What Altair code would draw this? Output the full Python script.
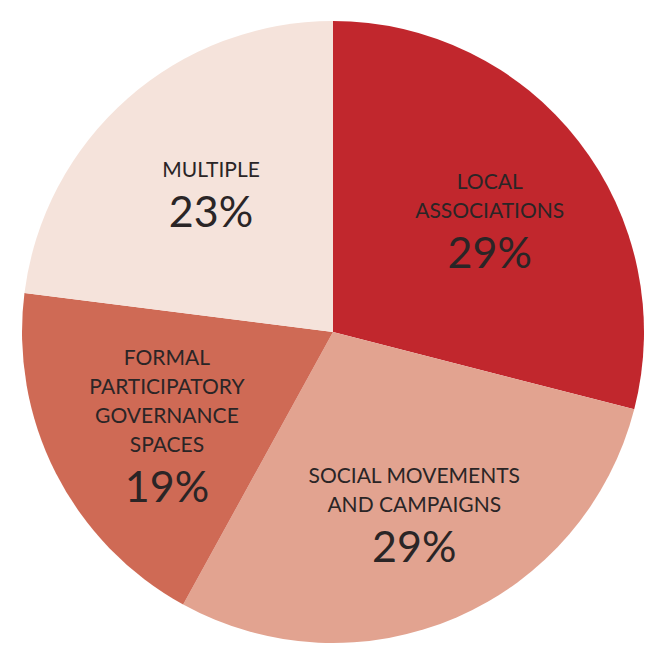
import math
import altair as alt
import pandas as pd

keys = ["local", "social", "formal", "multiple"]
label_lines = [
    ["LOCAL", "ASSOCIATIONS"],
    ["SOCIAL MOVEMENTS", "AND CAMPAIGNS"],
    ["FORMAL", "PARTICIPATORY", "GOVERNANCE", "SPACES"],
    ["MULTIPLE"],
]
values = [29, 29, 19, 23]
pct_labels = ["29%", "29%", "19%", "23%"]
colors = ["#C1272D", "#E2A390", "#CF6A55", "#F5E3DB"]

# ---- layout / style constants (not data) ----
W, H = 640, 638
PIE_R = 311
LABEL_R = 192
LABEL_SHIFT_X, LABEL_SHIFT_Y = 5, 9   # labels measured from the slices' apex
LINE_H = 29

slices = pd.DataFrame({
    "key": keys,
    "value": values,
    "order": list(range(len(keys))),
})

# text rows: one per line, placed around each slice's mid angle
total = sum(values)
rows = []
cum = 0
for key, v, lines, pct in zip(keys, values, label_lines, pct_labels):
    mid = (cum + v / 2) / total * 2 * math.pi
    cum += v
    cx = LABEL_R * math.sin(mid) + LABEL_SHIFT_X
    cy = LABEL_R * math.cos(mid) - LABEL_SHIFT_Y
    n = len(lines)
    block_h = (n - 1) * LINE_H + 66
    first = -block_h / 2 + 7.5
    for i, t in enumerate(lines):
        rows.append({"key": key, "text": t, "role": "label",
                     "x": cx, "y": cy - (first + i * LINE_H)})
    rows.append({"key": key, "text": pct, "role": "pct",
                 "x": cx, "y": cy - (block_h / 2 - 15.5)})
text_df = pd.DataFrame(rows)

arcs = alt.Chart(slices).mark_arc(radius=PIE_R, strokeWidth=0).encode(
    theta=alt.Theta("value:Q", stack=True),
    order=alt.Order("order:Q"),
    color=alt.Color("key:N", scale=alt.Scale(domain=keys, range=colors), legend=None),
)

xs = alt.X("x:Q", scale=alt.Scale(domain=[-W / 2, W / 2]), axis=None)
ys = alt.Y("y:Q", scale=alt.Scale(domain=[-H / 2, H / 2]), axis=None)

text_common = dict(align="center", baseline="middle", font="Lato", color="#2a2526")

labels = alt.Chart(text_df).transform_filter(alt.datum.role == "label").mark_text(
    fontSize=21, **text_common
).encode(x=xs, y=ys, text="text:N")

pcts = alt.Chart(text_df).transform_filter(alt.datum.role == "pct").mark_text(
    fontSize=43, **text_common
).encode(x=xs, y=ys, text="text:N")

chart = alt.layer(arcs, labels, pcts).properties(
    width=W, height=H,
    padding={"left": 5, "top": 5, "right": 0, "bottom": 0},
).configure_view(stroke=None)

chart.save("out.html", embed_options={"renderer": "svg", "actions": False})
